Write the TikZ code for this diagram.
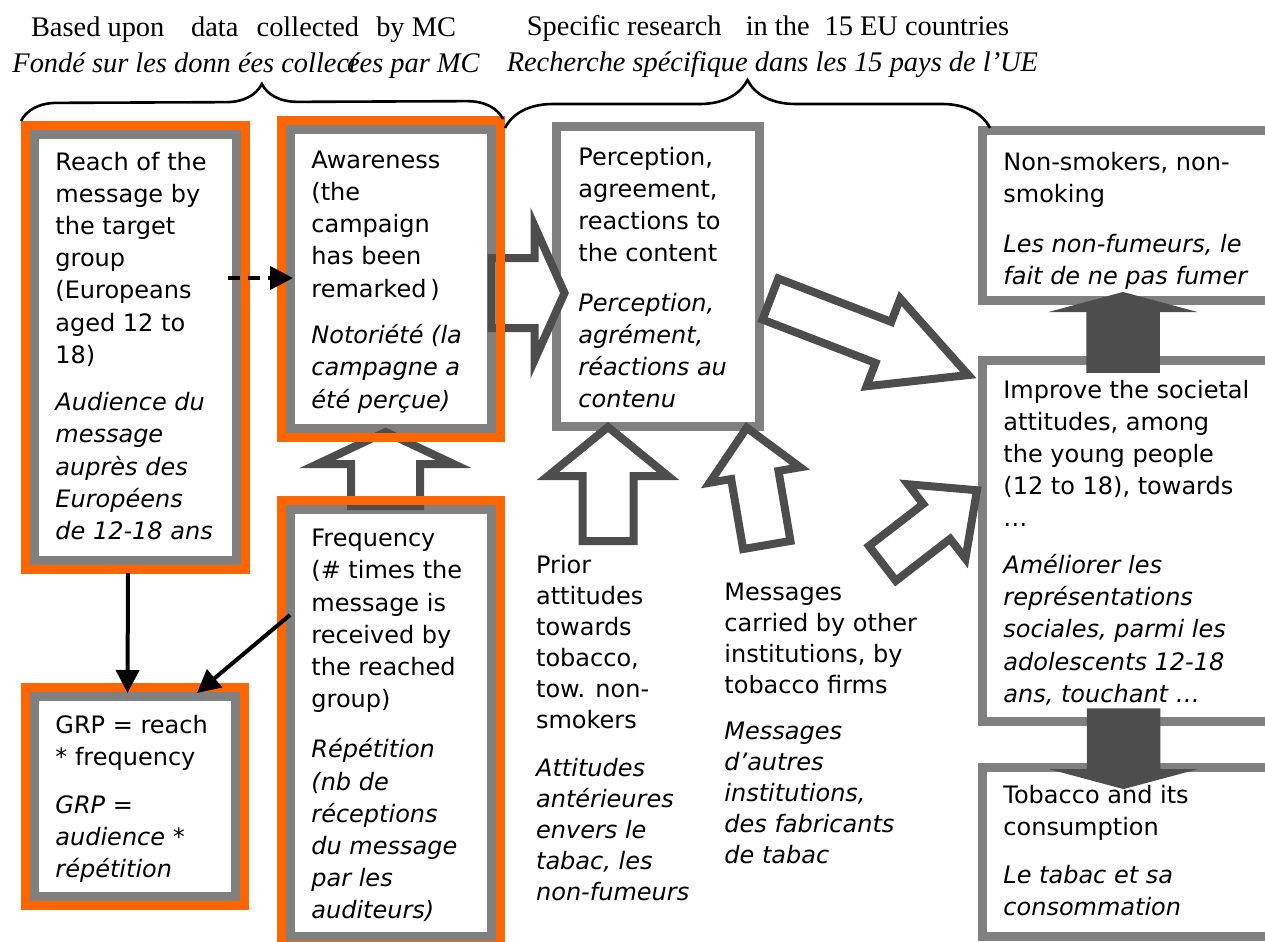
\documentclass[tikz,border=0pt]{standalone}
\usepackage{fontspec}
\setmainfont{DejaVu Sans}
\newfontfamily\hdrfont{Liberation Serif}
\usetikzlibrary{arrows.meta,decorations.pathreplacing}
\definecolor{frameg}{HTML}{808080}
\definecolor{arrowg}{HTML}{4D4D4D}
\definecolor{mcorange}{HTML}{FF6600}
\newcommand{\twolang}[3][8pt]{\parbox[t]{170pt}{\raggedright #2\par\vspace{#1}\itshape #3}}
\newcommand{\blockarrow}[7][]{%
  \begin{scope}[shift={#2},rotate=#3]
    \path[#1] (0,-#5) -- ({#4-#7},-#5) -- ({#4-#7},-#6) -- (#4,0) -- ({#4-#7},#6) -- ({#4-#7},#5) -- (0,#5) -- cycle;
  \end{scope}}
\begin{document}
\begin{tikzpicture}[x=0.5pt,y=-0.5pt,
  gbox/.style={draw=frameg,line width=4.5pt,fill=white,rectangle,inner sep=0pt,outer sep=0pt,anchor=north west},
  oframe/.style={draw=mcorange,line width=4.5pt},
  txt/.style={anchor=base west,inner sep=0pt,font=\fontsize{12}{16.1}\selectfont},
  freetxt/.style={txt,font=\fontsize{12}{15.5}\selectfont},
  hdr/.style={anchor=base,inner sep=0pt,font=\hdrfont\fontsize{14.2}{17}\selectfont},
  hollow/.style={draw=arrowg,line width=4pt,fill=white},
  filledarrow/.style={fill=arrowg},
  link/.style={draw,line width=2pt,-{Triangle[length=11.5pt,width=11.5pt]}},
  mcbrace/.style={draw,line width=1.3pt,decorate,decoration={brace,amplitude=#1}}]
\useasboundingbox (0,0) rectangle (1265,942);
\clip (0,0) rectangle (1265,942);
\foreach \n/\x/\y/\w/\h in {reach/34/134/101/213, awareness/290/129.5/100.75/149.5,
    frequency/290/509/100.75/213.5, grp/34/696/100.5/100, perception/556/126.5/101.5/149.75,
    nonsmokers/982/130/151.5/85.25, improve/982/360/151.5/180.5, tobacco/982/767/151.5/84.5}
  \node[gbox,minimum width=\w pt,minimum height=\h pt] (\n) at (\x,\y) {};
\node[txt] (reachtxt) at ([xshift=10.5pt,yshift=-18pt]reach.north west)
  {\twolang[7.6pt]{Reach of the\\message by\\the target\\group\\(Europeans\\aged 12 to\\18)}{Audience du\\message\\auprès des\\Européens\\de 12-18 ans}};
\node[txt] (awaretxt) at ([xshift=10.5pt,yshift=-19.4pt]awareness.north west)
  {\twolang[7.2pt]{Awareness\\(the\\campaign\\has been\\remarked\,)}{Notoriété (la\\campagne a\\été perçue)}};
\node[txt] (freqtxt) at ([xshift=10.5pt,yshift=-18.85pt]frequency.north west)
  {\twolang[9pt]{Frequency\\(\# times the\\message is\\received by\\the reached\\group)}{Répétition\\(nb de\\réceptions\\du message\\par les\\auditeurs)}};
\node[txt] (grptxt) at ([xshift=10.5pt,yshift=-18.5pt]grp.north west)
  {\twolang[8pt]{GRP = reach\\\relax * frequency}{GRP =\\audience *\\répétition}};
\node[txt] (perctxt) at ([xshift=11pt,yshift=-19.25pt]perception.north west)
  {\twolang[8.7pt]{Perception,\\agreement,\\reactions to\\the content}{Perception,\\agrément,\\réactions au\\contenu}};
\node[txt] (nonsmtxt) at ([xshift=10.5pt,yshift=-20pt]nonsmokers.north west)
  {\twolang[9pt]{Non-smokers, non-\\smoking}{Les non-fumeurs, le\\fait de ne pas fumer}};
\node[txt] (improvetxt) at ([xshift=10.5pt,yshift=-19pt]improve.north west)
  {\twolang[7.2pt]{Improve the societal\\attitudes, among\\the young people\\(12 to 18), towards\\…}{Améliorer les\\représentations\\sociales, parmi les\\adolescents 12-18\\ans, touchant …}};
\node[txt] (tobaccotxt) at ([xshift=10.5pt,yshift=-18.15pt]tobacco.north west)
  {\twolang[8pt]{Tobacco and its\\consumption}{Le tabac et sa\\consommation}};
\node[freetxt] (priortxt) at (535.7,573.3)
  {\twolang[8.7pt]{Prior\\attitudes\\towards\\tobacco,\\tow. non-\\smokers}{Attitudes\\antérieures\\envers le\\tabac, les\\non-fumeurs}};
\node[freetxt] (othertxt) at (724,600)
  {\twolang[7.8pt]{Messages\\carried by other\\institutions, by\\tobacco firms}{Messages\\d’autres\\institutions,\\des fabricants\\de tabac}};
\blockarrow[hollow]{([yshift=-7pt]awareness.east)}{0}{73}{35}{67}{30}
\blockarrow[hollow]{([xshift=-2.6pt,yshift=1.5pt]frequency.north)}{90}{74}{34.5}{68}{32}
\blockarrow[hollow]{([xshift=-24.75pt,yshift=-57.5pt]perception.south)}{90}{114}{25.5}{60}{49}
\blockarrow[hollow]{([xshift=3.9pt,yshift=-59.5pt]perception.south east)}{99.7}{119}{24}{46}{48}
\blockarrow[hollow]{([xshift=5.7pt,yshift=-11.4pt]perception.east)}{-21}{212}{22}{47}{91}
\blockarrow[hollow]{([xshift=-49.8pt,yshift=-11.45pt]improve.west)}{37.7}{119.6}{22}{47}{51}
\foreach \b in {reach,awareness,frequency,grp}
  \draw[oframe] ([shift={(-4.5pt,4.5pt)}]\b.north west) rectangle ([shift={(4.5pt,-4.5pt)}]\b.south east);
\blockarrow[filledarrow]{([xshift=70.5pt,yshift=-6.4pt]improve.north west)}{90}{80.8}{36.75}{74.5}{20}
\blockarrow[filledarrow]{([xshift=70.75pt,yshift=6.35pt]improve.south west)}{-90}{80.8}{36.75}{74.5}{20}
\draw[link] ([xshift=-3.5pt,yshift=-6.5pt]reach.south) -- ([xshift=-3.5pt,yshift=1.5pt]grp.north);
\draw[link] ([yshift=53.75pt]frequency.west) -- ([xshift=31.25pt,yshift=1.5pt]grp.north);
\draw[link,dash pattern=on 6pt off 4pt] ([xshift=-4pt,yshift=34.5pt]reach.east) -- ([xshift=1.5pt,yshift=0.5pt]awareness.west);
\draw[mcbrace=18pt] (21,121) -- (503,119);
\draw[mcbrace=24pt] (505,128) -- (990,128);
\node[hdr] (mcen) at (243.5,36) {Based upon\hspace{9.8pt} data\hspace{5.6pt} collected\hspace{5pt} by MC};
\node[hdr] (mcfr) at (246,72) {\itshape Fondé sur les donn ées collect\kern-5pt ées par MC};
\node[hdr] (euen) at (768,35) {Specific research\hspace{8.5pt} in the\hspace{3.9pt} 15 EU countries};
\node[hdr] (eufr) at (772.4,71.7) {\itshape Recherche spécifique dans les 15 pays de l’UE};
\end{tikzpicture}
\end{document}
